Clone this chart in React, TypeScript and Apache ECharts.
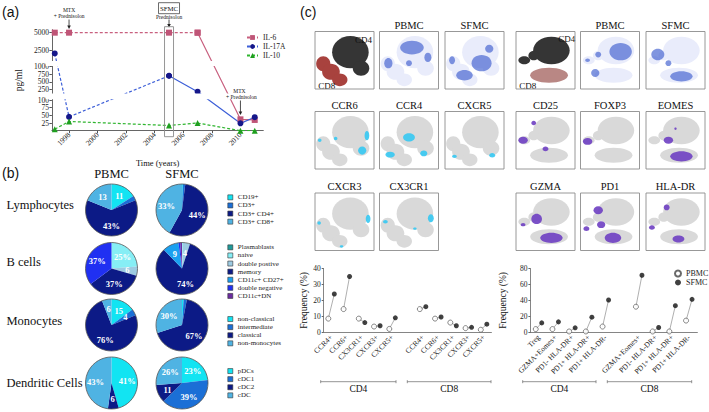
import React, { useEffect, useRef } from "react";
import * as echarts from "echarts";

// ---------- (a) cytokine time course ----------
const years = [1997, 1998, 2005, 2007, 2010, 2011];
const il6 = [5000, 5000, 5000, 5000, 37, 35];
const il17a = [2000, 45, 700, 170, 24, 44];
const il10 = [5, 30, 17, 25, 0, 0];
const yearTicks = [1998, 2000, 2002, 2004, 2006, 2008, 2010];
const yTickValues = [0, 25, 50, 75, 100, 250, 500, 750, 1000, 2500, 5000];
const yearMin = 1996.8;
const yearMax = 2011.6;

// broken (segmented) value axis: each segment has its own linear scale
const segments = [
  { from: 0, to: 100, p0: 0, p1: 30.7 },
  { from: 100, to: 1000, p0: 36.9, p1: 64.0 },
  { from: 1000, to: 5500, p0: 70.3, p1: 101.5 },
];
const gaps = [
  [31.4, 37.2],
  [64.8, 69.8],
];
function brk(v: number): number {
  for (const s of segments) {
    if (v <= s.to) return s.p0 + ((v - s.from) * (s.p1 - s.p0)) / (s.to - s.from);
  }
  const s = segments[segments.length - 1];
  return s.p1;
}

// ---------- (b) pies ----------
const lymphNames = ["CD19+", "CD3+", "CD3+ CD4+", "CD3+ CD8+"];
const lymphPBMC = [11, 2, 43, 13];
const lymphPBMCLabels = ["11", "", "43%", "13"];
const lymphSFMC = [0.4, 1.2, 44, 33];
const lymphSFMCLabels = ["", "", "44%", "33%"];

const bNames = ["Plasmablasts", "naive", "double postive", "memory", "CD11c+ CD27+", "double negative", "CD11c+DN"];
const bPBMC = [0, 25, 6, 37, 0, 37, 0];
const bPBMCLabels = ["", "25%", "6", "37%", "", "37%", ""];
const bSFMC = [0, 0.5, 4, 74, 9, 1, 1];
const bSFMCLabels = ["", "", "4", "74%", "9", "", ""];

const monoNames = ["non-classical", "intermediate", "classical", "non-monocytes"];
const monoPBMC = [15, 4, 76, 6];
const monoPBMCLabels = ["15", "4", "76%", "6"];
const monoSFMC = [1, 2, 67, 30];
const monoSFMCLabels = ["", "", "67%", "30%"];

const dcNames = ["pDCs", "cDC1", "cDC2", "cDC"];
const dcPBMC = [41, 0, 6, 43];
const dcPBMCLabels = ["41%", "", "6", "43%"];
const dcSFMC = [23, 39, 11, 26];
const dcSFMCLabels = ["23%", "39%", "11", "26%"];

const rowLabels = ["Lymphocytes", "B cells", "Monocytes", "Dendritic Cells"];

// ---------- (c) dot plots ----------
const leftCats = ["CCR4+", "CCR6+", "CX3CR1+", "CXCR3+", "CXCR5+", "", "CCR4+", "CCR6+", "CX3CR1+", "CXCR3+", "CXCR5+"];
const cd4PbmcL = [8.5, 14.5, 8.5, 3.5, 2];
const cd4SfmcL = [24, 35, 6, 4, 9];
const cd8PbmcL = [14.5, 8.5, 6, 2.5, 1.5];
const cd8SfmcL = [16, 9.5, 4, 3, 5];

const rightCats = ["Treg", "GZMA+Eomes+", "PD1- HLA-DR+", "PD1+ HLA-DR+", "PD1+ HLA-DR-", "", "GZMA+Eomes+", "PD1- HLA-DR+", "PD1+ HLA-DR+", "PD1+ HLA-DR-"];
const cd4PbmcR = [3.8, 3.8, 0.8, 0.8, 7];
const cd4SfmcR = [11.6, 12.9, 5.4, 18.8, 40.4];
const cd8PbmcR = [32, 0.8, 0.8, 14.5];
const cd8SfmcR = [71.6, 5.8, 33.3, 41.3];

const tsneLeftTitles = [["", "PBMC", "SFMC"], ["CCR6", "CCR4", "CXCR5"], ["CXCR3", "CX3CR1"]];
const tsneRightTitles = [["", "PBMC", "SFMC"], ["CD25", "FOXP3", "EOMES"], ["GZMA", "PD1", "HLA-DR"]];

// ---------- styles ----------
const SERIF = '"Liberation Serif", "Times New Roman", serif';
const SANS = '"Liberation Sans", Arial, sans-serif';
const C_IL6 = "#c8607f";
const C_IL6_M = "#bf5577";
const C_IL17 = "#3d5fd8";
const C_IL17_M = "#15178a";
const C_IL10 = "#2fb52f";
const C_IL10_M = "#1f9f1f";
const fourColors = ["#12e4f2", "#1b6fd6", "#0c1a86", "#4fb3e3"];
const bColors = ["#1f9a9a", "#86eef5", "#9dcbe2", "#0c1a86", "#1aa0f0", "#2030f2", "#6b2ca0"];

const pieX = [111.5, 182];
const pieY = [210, 268.5, 325, 383];
const pieR = 26;

type Ell = number[];

function pieData(names: string[], vals: number[], labels: string[], colors: string[]) {
  return names.map((n, i) => ({
    name: n,
    value: vals[i],
    itemStyle: { color: colors[i] },
    label: { show: labels[i] !== "", formatter: labels[i] },
  }));
}

function pieSeries(cx: number, cy: number, data: any[]) {
  return {
    type: "pie",
    center: [cx, cy],
    radius: pieR,
    startAngle: 90,
    clockwise: true,
    avoidLabelOverlap: false,
    silent: true,
    emphasis: { disabled: true },
    itemStyle: { borderWidth: 0 },
    labelLine: { show: false },
    label: {
      position: "inside",
      color: "#fff",
      fontSize: 8.5,
      fontWeight: "bold",
      fontFamily: SERIF,
    },
    data,
  };
}

function lineSeries(name: string, vals: number[], from: number, to: number, dashed: boolean, color: string, symbol: string, symColor: string, size: number) {
  return {
    type: "line",
    name,
    xAxisIndex: 0,
    yAxisIndex: 0,
    data: years.slice(from, to + 1).map((y, k) => [y, brk(vals[from + k])]),
    symbol,
    symbolSize: size,
    showAllSymbol: true,
    lineStyle: { color, width: 1.2, type: dashed ? [3, 2] : "solid" },
    itemStyle: { color: symColor },
    emphasis: { disabled: true },
    z: 2,
  };
}

function withGap(a: number[], b: number[]) {
  return [...a, "-", ...b];
}

function pairData(a: number[], b: number[], c: number[], d: number[]) {
  const p = [...a, null, ...c];
  const s = [...b, null, ...d];
  const out: number[][] = [];
  p.forEach((v, i) => {
    if (v !== null && s[i] !== null) out.push([i, v as number, s[i] as number]);
  });
  return out;
}

function dotSeries(gridIdx: number, pA: number[], sA: number[], pB: number[], sB: number[]) {
  return [
    {
      type: "custom",
      xAxisIndex: gridIdx,
      yAxisIndex: gridIdx,
      silent: true,
      z: 1,
      encode: { x: 0, y: [1, 2] },
      data: pairData(pA, sA, pB, sB),
      renderItem: (params: any, api: any) => {
        const a = api.coord([api.value(0), api.value(1)]);
        const b = api.coord([api.value(0), api.value(2)]);
        return {
          type: "line",
          shape: { x1: a[0] - 3, y1: a[1], x2: b[0] + 3, y2: b[1] },
          style: { stroke: "#8d8d8d", lineWidth: 0.7 },
        };
      },
    },
    {
      type: "scatter",
      name: "PBMC",
      xAxisIndex: gridIdx,
      yAxisIndex: gridIdx,
      symbol: "circle",
      symbolSize: 5,
      symbolOffset: [-3, 0],
      itemStyle: { color: "#fff", borderColor: "#444", borderWidth: 0.8 },
      emphasis: { disabled: true },
      z: 3,
      data: withGap(pA, pB),
    },
    {
      type: "scatter",
      name: "SFMC",
      xAxisIndex: gridIdx,
      yAxisIndex: gridIdx,
      symbol: "circle",
      symbolSize: 5,
      symbolOffset: [3, 0],
      itemStyle: { color: "#111" },
      emphasis: { disabled: true },
      z: 3,
      data: withGap(sA, sB),
    },
  ];
}

// ---------- t-SNE thumbnails (decorative) ----------
const BW = 59;
const BH = 57.5;
const leftCols = [315, 379.5, 445];
const rightCols = [516, 580.5, 646];
const rowsY = [31.5, 111.5, 193];

const GREY = "#d9d9d9";
const CYAN = "#35c8f2";
const PURPLE = "#6e3fc2";
const BLUE = "#4a68d2";
const PALE = "#e9ecfb";

// CD4 cloud (upper right) and CD8 cloud (diagonal, lower left)
const L_CD4: Ell[] = [
  [0.6, 0.36, 0.31, 0.28],
  [0.78, 0.64, 0.14, 0.13],
];
const L_CD8: Ell[] = [
  [0.14, 0.56, 0.12, 0.13],
  [0.27, 0.7, 0.15, 0.14],
  [0.42, 0.84, 0.13, 0.11],
];
const L_BASE: Ell[] = [...L_CD4, ...L_CD8];
const R_CD4: Ell[] = [
  [0.6, 0.33, 0.31, 0.24],
  [0.14, 0.5, 0.1, 0.07],
  [0.3, 0.42, 0.09, 0.08],
];
const R_CD8: Ell[] = [[0.56, 0.76, 0.32, 0.13]];
const R_BASE: Ell[] = [...R_CD4, ...R_CD8];

const leftHi: Ell[][][] = [
  [[], [[0.55, 0.28, 0.2, 0.12], [0.82, 0.45, 0.06, 0.08], [0.15, 0.55, 0.07, 0.09], [0.5, 0.55, 0.05, 0.05]], [[0.62, 0.55, 0.17, 0.14], [0.33, 0.76, 0.14, 0.09], [0.12, 0.5, 0.05, 0.07], [0.75, 0.3, 0.07, 0.07]]],
  [[[0.88, 0.42, 0.04, 0.08], [0.8, 0.68, 0.07, 0.07], [0.08, 0.5, 0.03, 0.03], [0.35, 0.47, 0.03, 0.03]], [[0.5, 0.45, 0.1, 0.07], [0.18, 0.75, 0.08, 0.05], [0.75, 0.73, 0.06, 0.05]], [[0.8, 0.76, 0.05, 0.04], [0.16, 0.78, 0.04, 0.03]]],
  [[[0.9, 0.45, 0.04, 0.07], [0.07, 0.52, 0.03, 0.03], [0.45, 0.93, 0.03, 0.02]], [[0.87, 0.44, 0.05, 0.07], [0.1, 0.5, 0.04, 0.03], [0.6, 0.62, 0.03, 0.02]]],
];
const rightHi: Ell[][][] = [
  [[], [[0.68, 0.35, 0.19, 0.15], [0.25, 0.72, 0.07, 0.07], [0.3, 0.4, 0.05, 0.05], [0.12, 0.5, 0.04, 0.03]], [[0.2, 0.4, 0.11, 0.1], [0.6, 0.78, 0.19, 0.09], [0.38, 0.55, 0.05, 0.05]]],
  [[[0.12, 0.5, 0.08, 0.06], [0.3, 0.2, 0.04, 0.04], [0.5, 0.65, 0.05, 0.04]], [[0.12, 0.52, 0.08, 0.06]], [[0.6, 0.78, 0.19, 0.09], [0.38, 0.5, 0.08, 0.06], [0.5, 0.3, 0.02, 0.02]]],
  [[[0.35, 0.45, 0.09, 0.09], [0.6, 0.78, 0.19, 0.09], [0.12, 0.55, 0.04, 0.03]], [[0.3, 0.3, 0.08, 0.07], [0.35, 0.55, 0.07, 0.06], [0.1, 0.62, 0.05, 0.04], [0.55, 0.78, 0.14, 0.09]], [[0.1, 0.6, 0.05, 0.04], [0.55, 0.8, 0.1, 0.06], [0.35, 0.25, 0.05, 0.05]]],
];

function ells(list: Ell[], fill: string, opacity = 1, stroke?: string) {
  return list.map(([cx, cy, rx, ry]) => ({
    type: "ellipse",
    shape: { cx: cx * BW, cy: cy * BH, rx: rx * BW, ry: ry * BH },
    silent: true,
    style: { fill, opacity, stroke: stroke || null, lineWidth: stroke ? 0.5 : 0 },
  }));
}

function tsneBox(x: number, y: number, title: string, children: any[]) {
  const els: any[] = [
    { type: "rect", shape: { x: 0, y: 0, width: BW, height: BH }, style: { fill: "#fff" } },
    ...children,
    { type: "rect", shape: { x: 0, y: 0, width: BW, height: BH }, style: { fill: "none", stroke: "#8c8c8c", lineWidth: 0.9 } },
  ];
  if (title) {
    els.push({
      type: "text",
      x: BW / 2,
      y: -6.5,
      style: { text: title, fontSize: 10.5, fontFamily: SERIF, fill: "#111", align: "center", verticalAlign: "middle" },
    });
  }
  return { type: "group", x, y, children: els };
}

function tsneGroup(cols: number[], base: Ell[], hi: Ell[][][], titles: string[][], hiColor: string, overview: { cd4: Ell[]; cd8: Ell[]; cd8Color: string; cd4Pos: number[]; cd8Pos: number[] }) {
  const out: any[] = [];
  titles.forEach((row, r) => {
    row.forEach((t, c) => {
      const x = cols[c];
      const y = rowsY[r];
      let children: any[] = [];
      if (r === 0 && c === 0) {
        children = [
          ...ells(overview.cd4, "#353535", 1),
          ...ells(overview.cd8, overview.cd8Color, 1),
          { type: "text", x: overview.cd4Pos[0] * BW, y: overview.cd4Pos[1] * BH, style: { text: "CD4", fontSize: 9, fontFamily: SERIF, fill: "#111", align: "center", verticalAlign: "middle" } },
          { type: "text", x: overview.cd8Pos[0] * BW, y: overview.cd8Pos[1] * BH, style: { text: "CD8", fontSize: 9, fontFamily: SERIF, fill: "#111", align: "center", verticalAlign: "middle" } },
        ];
      } else if (r === 0) {
        children = [...ells(base, PALE, 1), ...ells(hi[r][c], BLUE, 0.7)];
      } else {
        children = [...ells(base, GREY, 1), ...ells(hi[r][c], hiColor, 0.9)];
      }
      out.push(tsneBox(x, y, t, children));
    });
  });
  return out;
}

function bracket(x1: number, x2: number, y: number, label: string) {
  return [
    { type: "line", shape: { x1, y1: y, x2, y2: y }, style: { stroke: "#777", lineWidth: 0.8 } },
    { type: "line", shape: { x1, y1: y - 1.5, x2: x1, y2: y + 1.5 }, style: { stroke: "#777", lineWidth: 0.8 } },
    { type: "line", shape: { x1: x2, y1: y - 1.5, x2, y2: y + 1.5 }, style: { stroke: "#777", lineWidth: 0.8 } },
    { type: "text", x: (x1 + x2) / 2, y: y + 7.5, style: { text: label, fontSize: 9.5, fontFamily: SERIF, fill: "#111", align: "center", verticalAlign: "middle" } },
  ];
}

function txt(text: string, x: number, y: number, size: number, opts: any = {}) {
  return {
    type: "text",
    x,
    y,
    z: 20,
    silent: true,
    style: { text, fontSize: size, fontFamily: SERIF, fill: "#111", align: "center", verticalAlign: "middle", ...opts },
  };
}

function arrow(x: number, y1: number, y2: number) {
  return [
    { type: "line", z: 20, shape: { x1: x, y1, x2: x, y2: y2 - 2 }, style: { stroke: "#222", lineWidth: 0.8 } },
    { type: "polygon", z: 20, shape: { points: [[x - 1.8, y2 - 3.5], [x + 1.8, y2 - 3.5], [x, y2]] }, style: { fill: "#222" } },
  ];
}

function buildOption() {
  const tickPos = yTickValues.map(brk);
  const labelMap = new Map(tickPos.map((p, i) => [p.toFixed(2), String(yTickValues[i])]));
  const axisText = { fontFamily: SERIF, color: "#222" };
  const nameStyle = (size: number) => ({ fontSize: size, fontFamily: SERIF, color: "#111", fontWeight: "normal" });

  return {
    animation: false,
    textStyle: { fontFamily: SERIF },
    grid: [
      { left: 51.9, top: 29.7, width: 211.4, height: 101, containLabel: false },
      { left: 323.7, top: 268.6, width: 167.75, height: 63.5 },
      { left: 530.4, top: 268.6, width: 167, height: 63.5 },
    ],
    xAxis: [
      {
        type: "value",
        gridIndex: 0,
        min: yearMin,
        max: yearMax,
        splitLine: { show: false },
        axisLine: { show: true, onZero: true, lineStyle: { color: "#555", width: 0.9 } },
        axisTick: { show: true, customValues: yearTicks, length: 2.5, lineStyle: { color: "#555" } },
        axisLabel: { customValues: yearTicks, formatter: (v: number) => String(Math.round(v)), rotate: 45, fontSize: 7.5, margin: 3, ...axisText },
        name: "Time (years)",
        nameLocation: "middle",
        nameGap: 28,
        nameTextStyle: nameStyle(8.5),
      },
      {
        type: "category",
        gridIndex: 1,
        data: leftCats,
        boundaryGap: true,
        axisLine: { lineStyle: { color: "#666", width: 0.8 } },
        axisTick: { show: false },
        axisLabel: { interval: 0, rotate: 45, fontSize: 7.5, margin: 4, ...axisText },
      },
      {
        type: "category",
        gridIndex: 2,
        data: rightCats,
        boundaryGap: true,
        axisLine: { lineStyle: { color: "#666", width: 0.8 } },
        axisTick: { show: false },
        axisLabel: { interval: 0, rotate: 45, fontSize: 7.5, margin: 4, ...axisText },
      },
    ],
    yAxis: [
      {
        type: "value",
        gridIndex: 0,
        min: 0,
        max: 101,
        splitLine: { show: false },
        axisLine: { show: true, lineStyle: { color: "#555", width: 0.9 } },
        axisTick: { show: true, customValues: tickPos, length: 2.5, lineStyle: { color: "#555" } },
        axisLabel: {
          customValues: tickPos,
          formatter: (v: number) => labelMap.get(v.toFixed(2)) ?? "",
          fontSize: 7.5,
          margin: 3,
          ...axisText,
        },
        name: "pg/ml",
        nameLocation: "middle",
        nameGap: 28,
        nameTextStyle: nameStyle(9.5),
      },
      {
        type: "value",
        gridIndex: 1,
        min: 0,
        max: 40,
        interval: 10,
        splitLine: { show: false },
        axisLine: { show: true, lineStyle: { color: "#666", width: 0.8 } },
        axisTick: { show: true, length: 2, lineStyle: { color: "#666" } },
        axisLabel: { fontSize: 7.5, margin: 3, ...axisText },
        name: "Frequency (%)",
        nameLocation: "middle",
        nameGap: 15,
        nameTextStyle: nameStyle(9.5),
      },
      {
        type: "value",
        gridIndex: 2,
        min: 0,
        max: 80,
        interval: 20,
        splitLine: { show: false },
        axisLine: { show: true, lineStyle: { color: "#666", width: 0.8 } },
        axisTick: { show: true, length: 2, lineStyle: { color: "#666" } },
        axisLabel: { fontSize: 7.5, margin: 3, ...axisText },
        name: "Frequency (%)",
        nameLocation: "middle",
        nameGap: 22,
        nameTextStyle: nameStyle(9.5),
      },
    ],
    legend: [
      {
        data: ["IL-6", "IL-17A", "IL-10"],
        left: 241,
        top: 28.5,
        orient: "vertical",
        selectedMode: false,
        itemWidth: 11,
        itemHeight: 6,
        itemGap: 1,
        textStyle: { fontSize: 7.5, lineHeight: 8, fontFamily: SERIF, color: "#222" },
      },
      ...[
        [lymphNames, 188.3],
        [bNames, 238.3],
        [monoNames, 310],
        [dcNames, 362],
      ].map(([names, top]) => ({
        data: names as string[],
        left: 222.5,
        top: top as number,
        orient: "vertical",
        selectedMode: false,
        icon: "rect",
        itemWidth: 5,
        itemHeight: 5,
        itemGap: 0,
        itemStyle: { borderColor: "#333", borderWidth: 0.6 },
        textStyle: { fontSize: 7, lineHeight: 8.1, fontFamily: SERIF, color: "#222" },
      })),
      {
        data: ["PBMC", "SFMC"],
        left: 669,
        top: 264.5,
        orient: "vertical",
        selectedMode: false,
        itemWidth: 6,
        itemHeight: 6,
        itemGap: 1,
        textStyle: { fontSize: 8, lineHeight: 7.5, fontFamily: SERIF, color: "#222" },
      },
    ],
    series: [
      lineSeries("IL-6", il6, 0, 3, true, C_IL6, "rect", C_IL6_M, 6),
      lineSeries("IL-6", il6, 3, 5, false, C_IL6, "rect", C_IL6_M, 6),
      lineSeries("IL-17A", il17a, 0, 2, true, C_IL17, "circle", C_IL17_M, 6),
      lineSeries("IL-17A", il17a, 2, 5, false, C_IL17, "circle", C_IL17_M, 6),
      lineSeries("IL-10", il10, 0, 5, true, C_IL10, "triangle", C_IL10_M, 6),
      {
        type: "custom",
        xAxisIndex: 0,
        yAxisIndex: 0,
        silent: true,
        z: 3,
        encode: { x: 0, y: [1, 2] },
        data: gaps.map((g) => [yearMin, g[0], g[1]]),
        renderItem: (params: any, api: any) => {
          const lo = api.coord([yearMin, api.value(1)]);
          const hi = api.coord([yearMax, api.value(2)]);
          return {
            type: "rect",
            shape: { x: lo[0] - 6, y: hi[1], width: hi[0] - lo[0] + 6, height: lo[1] - hi[1] },
            style: { fill: "#fff" },
          };
        },
      },
      pieSeries(pieX[0], pieY[0], pieData(lymphNames, lymphPBMC, lymphPBMCLabels, fourColors)),
      pieSeries(pieX[1], pieY[0], pieData(lymphNames, lymphSFMC, lymphSFMCLabels, fourColors)),
      pieSeries(pieX[0], pieY[1], pieData(bNames, bPBMC, bPBMCLabels, bColors)),
      pieSeries(pieX[1], pieY[1], pieData(bNames, bSFMC, bSFMCLabels, bColors)),
      pieSeries(pieX[0], pieY[2], pieData(monoNames, monoPBMC, monoPBMCLabels, fourColors)),
      pieSeries(pieX[1], pieY[2], pieData(monoNames, monoSFMC, monoSFMCLabels, fourColors)),
      pieSeries(pieX[0], pieY[3], pieData(dcNames, dcPBMC, dcPBMCLabels, fourColors)),
      pieSeries(pieX[1], pieY[3], pieData(dcNames, dcSFMC, dcSFMCLabels, fourColors)),
      ...dotSeries(1, cd4PbmcL, cd4SfmcL, cd8PbmcL, cd8SfmcL),
      ...dotSeries(2, cd4PbmcR, cd4SfmcR, cd8PbmcR, cd8SfmcR),
    ],
  };
}

function buildGraphics(px: (yr: number) => number) {
  const g: any[] = [];
  // panel letters
  g.push({ type: "text", x: 2, y: 4.5, style: { text: "(a)", fontSize: 14, fontFamily: SANS, fill: "#111" } });
  g.push({ type: "text", x: 2, y: 166, style: { text: "(b)", fontSize: 14, fontFamily: SANS, fill: "#111" } });
  g.push({ type: "text", x: 300, y: 4.5, style: { text: "(c)", fontSize: 14, fontFamily: SANS, fill: "#111" } });

  // (a) annotations
  const x98 = px(1998);
  const x05 = px(2005);
  const x10 = px(2010);
  g.push(txt("MTX", x98, 10, 5.5));
  g.push(txt("+ Prednisolon", x98, 16, 5.5));
  g.push(...arrow(x98, 19.5, 29));
  g.push({ type: "rect", z: 20, shape: { x: x05 - 10.5, y: 2.7, width: 21, height: 11 }, style: { fill: "none", stroke: "#444", lineWidth: 0.8 } });
  g.push(txt("SFMC", x05, 8.4, 6.8));
  g.push(txt("Prednisolon", x05, 16.5, 5.5));
  g.push(...arrow(x05, 19.5, 27.5));
  g.push({ type: "rect", z: 20, shape: { x: x05 - 4.5, y: 26.7, width: 9, height: 110 }, style: { fill: "none", stroke: "#8a8a8a", lineWidth: 0.9 } });
  g.push(txt("MTX", x10 - 1, 91, 5.5));
  g.push(txt("+ Prednisolon", x10 + 1, 97.3, 5.5));
  g.push(...arrow(x10, 100.5, 115));

  // (b) titles and row labels
  g.push(txt("PBMC", pieX[0], 174, 12.5));
  g.push(txt("SFMC", pieX[1], 174, 12.5));
  const rowLabelY = [205, 261.5, 321, 383];
  rowLabels.forEach((t, i) => g.push(txt(t, 6.5, rowLabelY[i], 12.5, { align: "left" })));
  pieY.forEach((cy) =>
    pieX.forEach((cx) =>
      g.push({ type: "circle", z: 20, silent: true, shape: { cx, cy, r: pieR }, style: { fill: "none", stroke: "#555", lineWidth: 0.8 } })
    )
  );

  // (c) t-SNE thumbnails
  g.push(
    ...tsneGroup(leftCols, L_BASE, leftHi, tsneLeftTitles, CYAN, {
      cd4: L_CD4,
      cd8: L_CD8,
      cd8Color: "#a8423e",
      cd4Pos: [0.82, 0.15],
      cd8Pos: [0.2, 0.94],
    })
  );
  g.push(
    ...tsneGroup(rightCols, R_BASE, rightHi, tsneRightTitles, PURPLE, {
      cd4: R_CD4,
      cd8: R_CD8,
      cd8Color: "#b98784",
      cd4Pos: [0.86, 0.13],
      cd8Pos: [0.2, 0.94],
    })
  );

  // (c) brackets below dot plots
  g.push(...bracket(320.7, 396, 381.7, "CD4"));
  g.push(...bracket(407.3, 491, 381.7, "CD8"));
  g.push(...bracket(522.7, 596, 381.7, "CD4"));
  g.push(...bracket(607.3, 691.7, 381.7, "CD8"));
  return g;
}

export default function App() {
  const ref = useRef<HTMLDivElement>(null);
  useEffect(() => {
    if (!ref.current) return;
    const chart = echarts.init(ref.current, null, { renderer: "svg" });
    chart.setOption(buildOption() as any);
    const px = (yr: number) => chart.convertToPixel({ xAxisIndex: 0 }, yr) as number;
    chart.setOption({ graphic: { elements: buildGraphics(px) } } as any);
    return () => chart.dispose();
  }, []);
  return (
    <div
      ref={ref}
      style={{ position: "fixed", left: 0, top: 0, width: 709, height: 412, background: "#fff" }}
    />
  );
}
